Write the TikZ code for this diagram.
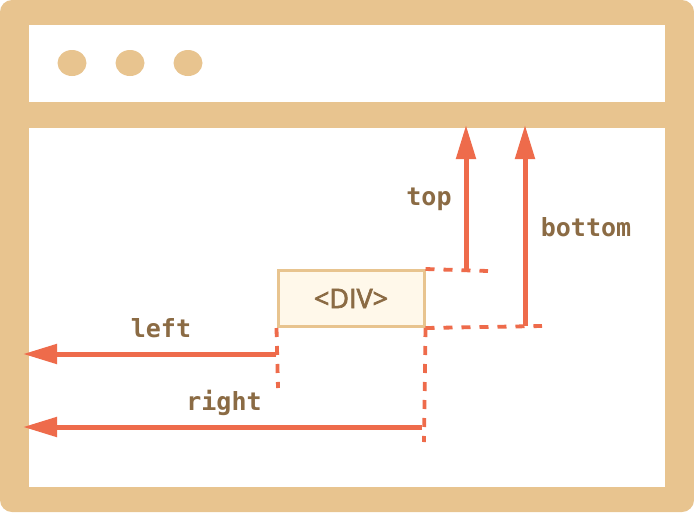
\documentclass[tikz,border=0pt]{standalone}
\usepackage{fontspec}
\newfontfamily\divfont[FakeBold=2.5]{Open Sans}
\newfontfamily\labfont{DejaVu Sans Mono}
\usetikzlibrary{arrows.meta}
\definecolor{frame}{HTML}{E8C48F}
\definecolor{coral}{HTML}{EE6B4B}
\definecolor{brownt}{HTML}{8B6B44}
\definecolor{boxfill}{HTML}{FFF8EA}
\tikzset{
  arr/.style={draw=coral, line width=5pt, -{Triangle[length=34pt,width=19pt]}},
  dsh/.style={draw=coral, line width=3.8pt, dash pattern=on 9pt off 9pt},
  lab/.style={text=brownt, font=\labfont\bfseries\fontsize{25}{28}\selectfont, inner sep=0pt},
}
\begin{document}
\begin{tikzpicture}[x=1pt,y=-1pt]
\useasboundingbox (0,0) rectangle (694,512);
% window frame
\fill[frame, rounded corners=12pt] (0,0) rectangle (694,512);
\fill[white] (29,25) rectangle (665,102);
\fill[white] (29,128) rectangle (665,487);
\foreach \x in {72,130,188} \fill[frame] (\x,63) ellipse [x radius=14.5, y radius=13];
% div box
\node[draw=frame, fill=boxfill, line width=3pt, minimum width=146pt, minimum height=56pt,
      inner sep=0pt, text=brownt, font=\divfont\fontsize{27}{30}\selectfont] (div) at (351,298.5) {<DIV>};
% coordinates
\coordinate (topend) at (488,271);
\coordinate (botend) at (542,326);
\coordinate (lend) at (278,388);
\coordinate (rend) at (424,442);
\coordinate (tbase) at (466,272);
\coordinate (ttip) at (466,125);
\coordinate (bbase) at (525,326);
\coordinate (btip) at (525,125);
\coordinate (lbase) at (276,354);
\coordinate (ltip) at (23,354);
\coordinate (rbase) at (422,427);
\coordinate (rtip) at (23,427);
% dashed guides
\draw[dsh] (div.north east) -- (topend);
\draw[dsh] (div.south east) -- (botend);
\draw[dsh] (div.south west) -- (lend);
\draw[dsh] (div.south east) -- (rend);
% arrows
\draw[arr] (tbase) -- (ttip);
\draw[arr] (bbase) -- (btip);
\draw[arr] (lbase) -- (ltip);
\draw[arr] (rbase) -- (rtip);
% labels
\node[lab] (ltop) at (429,199) {top};
\node[lab] (lbot) at (586,227) {bottom};
\node[lab] (lleft) at (161,328) {left};
\node[lab] (lright) at (224,403) {right};
\end{tikzpicture}
\end{document}
